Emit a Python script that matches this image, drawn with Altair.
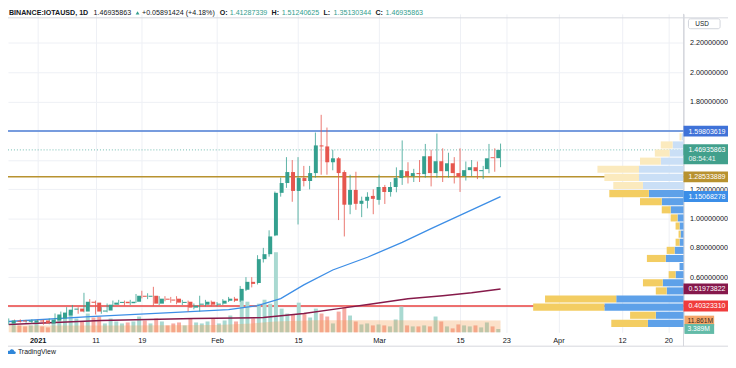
import altair as alt
import pandas as pd
import numpy as np

# ---------------- values ----------------
first_day = "2020-12-27"
opens = [0.284, 0.302, 0.304, 0.295, 0.290, 0.304, 0.304, 0.284, 0.304, 0.318,
         0.338, 0.378, 0.385, 0.365, 0.432, 0.426, 0.365, 0.372, 0.412, 0.424,
         0.432, 0.422, 0.432, 0.473, 0.466, 0.473, 0.419, 0.453, 0.447, 0.453,
         0.424, 0.432, 0.392, 0.412, 0.412, 0.432, 0.412, 0.419, 0.439, 0.453,
         0.439, 0.514, 0.568, 0.560, 0.723, 0.757, 0.885, 1.176, 1.243, 1.318,
         1.189, 1.277, 1.257, 1.311, 1.500, 1.493, 1.385, 1.412, 1.318, 1.095,
         1.196, 1.101, 1.122, 1.155, 1.128, 1.216, 1.182, 1.216, 1.277, 1.324,
         1.291, 1.311, 1.304, 1.426, 1.311, 1.392, 1.324, 1.378, 1.311, 1.291,
         1.331, 1.351, 1.324, 1.338, 1.419, 1.41287339]
closes = [0.304, 0.295, 0.297, 0.302, 0.304, 0.297, 0.284, 0.310, 0.345, 0.358,
          0.378, 0.385, 0.365, 0.432, 0.425, 0.365, 0.372, 0.412, 0.426, 0.431,
          0.422, 0.432, 0.473, 0.466, 0.473, 0.419, 0.453, 0.446, 0.440, 0.426,
          0.431, 0.392, 0.405, 0.419, 0.432, 0.412, 0.419, 0.439, 0.453, 0.439,
          0.520, 0.568, 0.554, 0.723, 0.757, 0.878, 1.176, 1.243, 1.318, 1.189,
          1.277, 1.257, 1.311, 1.500, 1.493, 1.385, 1.412, 1.311, 1.095, 1.196,
          1.101, 1.122, 1.149, 1.135, 1.216, 1.182, 1.216, 1.277, 1.331, 1.291,
          1.311, 1.304, 1.426, 1.311, 1.392, 1.324, 1.378, 1.311, 1.284, 1.331,
          1.351, 1.324, 1.331, 1.412, 1.41287339, 1.46935863]
highs = [0.318, 0.310, 0.312, 0.308, 0.312, 0.310, 0.310, 0.318, 0.352, 0.365,
         0.395, 0.410, 0.395, 0.493, 0.450, 0.440, 0.395, 0.420, 0.440, 0.445,
         0.440, 0.445, 0.485, 0.507, 0.490, 0.534, 0.470, 0.470, 0.465, 0.470,
         0.445, 0.440, 0.420, 0.473, 0.445, 0.440, 0.430, 0.450, 0.465, 0.465,
         0.540, 0.600, 0.600, 0.750, 0.800, 0.920, 1.185, 1.280, 1.420, 1.400,
         1.420, 1.360, 1.360, 1.588, 1.709, 1.622, 1.470, 1.420, 1.330, 1.300,
         1.320, 1.150, 1.180, 1.200, 1.300, 1.230, 1.250, 1.350, 1.534, 1.385,
         1.340, 1.400, 1.510, 1.470, 1.581, 1.480, 1.450, 1.420, 1.480, 1.390,
         1.400, 1.390, 1.360, 1.510, 1.480, 1.51240625]
lows = [0.275, 0.288, 0.290, 0.288, 0.284, 0.290, 0.275, 0.278, 0.298, 0.310,
        0.330, 0.360, 0.350, 0.360, 0.405, 0.345, 0.350, 0.360, 0.400, 0.410,
        0.405, 0.410, 0.425, 0.455, 0.450, 0.405, 0.410, 0.435, 0.425, 0.415,
        0.410, 0.365, 0.380, 0.365, 0.400, 0.400, 0.400, 0.410, 0.430, 0.430,
        0.430, 0.505, 0.530, 0.550, 0.700, 0.740, 0.880, 1.150, 1.210, 1.115,
        0.960, 1.220, 1.200, 1.280, 1.300, 1.300, 1.330, 0.990, 0.878, 1.030,
        1.060, 1.010, 1.070, 1.030, 1.095, 1.100, 1.150, 1.180, 1.230, 1.240,
        1.250, 1.250, 1.280, 1.220, 1.280, 1.250, 1.280, 1.240, 1.182, 1.260,
        1.290, 1.270, 1.270, 1.310, 1.320, 1.35130344]
volumes_m = [11, 7, 6, 7, 11, 6, 5, 12, 16, 17,
             21, 14, 11, 19, 15, 16, 9, 14, 11, 9,
             10, 11, 16, 12, 9, 14, 11, 7, 9, 10,
             7, 14, 10, 9, 11, 14, 9, 12, 17, 11,
             32, 31, 14, 29, 33, 29, 81, 24, 19, 18,
             30, 19, 15, 24, 19, 16, 9, 21, 26, 17,
             11, 8, 9, 7, 8, 7, 6, 13, 26, 7,
             6, 6, 7, 6, 16, 11, 6, 4, 8, 7,
             6, 7, 5, 10, 6, 3.389]

blue_ma_dates = ["2020-12-27", "2021-01-10", "2021-01-24", "2021-02-03", "2021-02-08",
                 "2021-02-12", "2021-02-16", "2021-02-21", "2021-02-27", "2021-03-05",
                 "2021-03-10", "2021-03-16", "2021-03-22"]
blue_ma_values = [0.297, 0.331, 0.358, 0.378, 0.405, 0.453, 0.547, 0.649, 0.736, 0.838,
                  0.932, 1.041, 1.15068278]
maroon_ma_dates = ["2020-12-27", "2021-01-12", "2021-01-28", "2021-02-09", "2021-02-16",
                   "2021-02-22", "2021-02-28", "2021-03-06", "2021-03-12", "2021-03-17",
                   "2021-03-22"]
maroon_ma_values = [0.277, 0.304, 0.318, 0.324, 0.351, 0.385, 0.419, 0.453, 0.473, 0.493,
                    0.51973822]
vol_ma_dates = ["2020-12-27", "2021-01-15", "2021-02-01", "2021-02-07", "2021-02-11",
                "2021-02-18", "2021-03-01", "2021-03-22"]
vol_ma_values = [7, 7, 7.5, 9, 11, 12.3, 12.3, 11.861]

level_prices = [1.59803619, 1.28533889, 0.40323310]
last_price = 1.46935863
countdown = "08:54:41"

profile_bottom = 0.2601
profile_step = 0.0554
profile_up = [36, 28, 80, 68, 17, 21, 8, 4, 18, 9, 4, 3, 4, 6, 13, 22, 35, 41, 45, 45, 23, 14, 11, 2]
profile_down = [37, 26, 72, 72, 11, 20, 7, 0, 19, 8, 4, 2, 4, 7, 9, 22, 40, 30, 35, 42, 21, 15, 12, 2]
profile_first_light_row = 17

tag_texts = ["1.59803619", "1.46935863", "1.28533889", "1.15068278", "0.51973822", "0.40323310"]
tag_prices = [1.59803619, 1.46935863, 1.28533889, 1.15068278, 0.51973822, 0.40323310]
vol_tag_texts = ["11.861M", "3.389M"]
vol_tag_values = [11.861, 3.389]

tick_dates = ["2021-01-01", "2021-01-11", "2021-01-19", "2021-02-01", "2021-02-15", "2021-03-01",
              "2021-03-15", "2021-03-23", "2021-04-01", "2021-04-12", "2021-04-20"]
tick_labels = ["2021", "11", "19", "Feb", "15", "Mar", "15", "23", "Apr", "12", "20"]
price_ticks = [0.4, 0.6, 0.8, 1.0, 1.2, 1.4, 1.6, 1.8, 2.0, 2.2]
hidden_price_labels = [0.4, 1.4, 1.6]   # covered by the price tags in the picture

header_title = "BINANCE:IOTAUSD, 1D"
header_last = "1.46935863"
header_change = "+0.05891424 (+4.18%)"
header_ohlc = [("O:", "1.41287339"), ("H:", "1.51240625"), ("L:", "1.35130344"), ("C:", "1.46935863")]

# ---------------- styles ----------------
FONT = "Liberation Sans"
DARK = "#131722"
UP, DOWN = "#34a08f", "#e6564e"
VUP, VDOWN = "#a9d9d1", "#f7aca4"
GRID = "#eef0f5"
W, H = 683, 322
origin = pd.Timestamp("2021-01-01")


def days(ds):
    return [(pd.Timestamp(d) - origin).days for d in ds]


day_scale = alt.Scale(domain=[-5.128, 111.62], nice=False, zero=False)
price_scale = alt.Scale(domain=[0.2230, 2.3986], nice=False, zero=False)
vol_scale = alt.Scale(domain=[0, 322], nice=False, zero=False)
prof_scale = alt.Scale(domain=[0, 683], nice=False, zero=False, reverse=True)

dates = pd.date_range(first_day, periods=len(opens), freq="D")
candles = pd.DataFrame({"day": [(d - origin).days for d in dates], "open": opens, "close": closes,
                        "high": highs, "low": lows, "volume": volumes_m})
candles["dir"] = np.where(candles["close"] >= candles["open"], "up", "down")

tick_days = days(tick_dates)
label_expr = "".join(f"datum.value == {d} ? '{l}' : " for d, l in zip(tick_days, tick_labels)) + "''"
price_label_expr = ("(" + " || ".join(f"datum.value == {v}" for v in hidden_price_labels)
                    + ") ? '' : format(datum.value, '.8f')")

x_axis = alt.Axis(values=tick_days, labelExpr=label_expr, grid=True, gridColor=GRID, domain=False,
                  ticks=False, labelPadding=4, labelFontSize=7.5, labelColor=DARK, labelFont=FONT,
                  labelFontWeight={"condition": {"test": "datum.value == 0", "value": "bold"}, "value": "normal"},
                  title=None, labelOverlap=False, labelFlush=False)
y_axis = alt.Axis(orient="right", values=price_ticks, labelExpr=price_label_expr, grid=True, gridColor=GRID,
                  domain=True, domainColor="#c9ccd3", ticks=False, labelPadding=6, labelFontSize=7.3,
                  labelColor=DARK, labelFont=FONT, title=None, labelOverlap=False)

dir_up_down = alt.Scale(domain=["up", "down"], range=[UP, DOWN])
dir_vol = alt.Scale(domain=["up", "down"], range=[VUP, VDOWN])

base = alt.Chart(candles)
wicks = base.mark_rule(strokeWidth=1, opacity=0.8).encode(
    x=alt.X("day:Q", scale=day_scale, axis=x_axis),
    y=alt.Y("low:Q", scale=price_scale, axis=y_axis),
    y2="high:Q",
    color=alt.Color("dir:N", scale=dir_up_down, legend=None))
bodies = base.mark_bar(size=4).encode(
    x=alt.X("day:Q", scale=day_scale, axis=None),
    y=alt.Y("open:Q", scale=price_scale, axis=None),
    y2="close:Q",
    color=alt.Color("dir:N", scale=dir_up_down, legend=None))
vol_bars = base.mark_bar(size=4).encode(
    x=alt.X("day:Q", scale=day_scale, axis=None),
    y=alt.Y("volume:Q", scale=vol_scale, axis=None),
    color=alt.Color("dir:N", scale=dir_vol, legend=None))

vol_ma = alt.Chart(pd.DataFrame({"day": days(vol_ma_dates), "v": vol_ma_values})).mark_area(
    color="#f39a4d", opacity=0.3).encode(
    x=alt.X("day:Q", scale=day_scale, axis=None),
    y=alt.Y("v:Q", scale=vol_scale, axis=None))

blue_ma = alt.Chart(pd.DataFrame({"day": days(blue_ma_dates), "p": blue_ma_values})).mark_line(
    color="#3d8ee6", strokeWidth=1.3).encode(
    x=alt.X("day:Q", scale=day_scale, axis=None),
    y=alt.Y("p:Q", scale=price_scale, axis=None))
maroon_ma = alt.Chart(pd.DataFrame({"day": days(maroon_ma_dates), "p": maroon_ma_values})).mark_line(
    color="#861a4a", strokeWidth=1.5).encode(
    x=alt.X("day:Q", scale=day_scale, axis=None),
    y=alt.Y("p:Q", scale=price_scale, axis=None))

levels = alt.Chart(pd.DataFrame({"p": level_prices, "k": ["a", "b", "c"]})).mark_rule(strokeWidth=1.5).encode(
    y=alt.Y("p:Q", scale=price_scale, axis=None),
    x=alt.value(0), x2=alt.value(W),
    color=alt.Color("k:N", scale=alt.Scale(domain=["a", "b", "c"], range=["#4c7ed4", "#b8922f", "#e8403f"]),
                    legend=None))
last_line = alt.Chart(pd.DataFrame({"p": [last_price]})).mark_rule(
    color=UP, strokeDash=[1, 2], strokeWidth=1, opacity=0.7).encode(
    y=alt.Y("p:Q", scale=price_scale, axis=None), x=alt.value(0), x2=alt.value(W))

# visible-range volume profile
rows = []
for j, (u, d) in enumerate(zip(profile_up, profile_down)):
    lo = profile_bottom + j * profile_step
    hi = lo + profile_step
    shade = "light" if j >= profile_first_light_row else "dark"
    rows.append({"lo": lo, "hi": hi, "x0": 0, "x1": u, "kind": "up_" + shade})
    rows.append({"lo": lo, "hi": hi, "x0": u, "x1": u + d, "kind": "down_" + shade})
profile = alt.Chart(pd.DataFrame(rows)).mark_rect(y2Offset=1).encode(
    x=alt.X("x0:Q", scale=prof_scale, axis=None), x2="x1:Q",
    y=alt.Y("lo:Q", scale=price_scale, axis=None), y2="hi:Q",
    color=alt.Color("kind:N", scale=alt.Scale(
        domain=["up_dark", "down_dark", "up_light", "down_light"],
        range=["#5ea1e9", "#f3cd62", "#cadff6", "#fbeabe"]), legend=None))

# price tags on the scale
tag_colors = ["#3f72d8", "#41a08c", "#b8922f", "#3b8ee8", "#86184c", "#f03c3c"]
tags_df = pd.DataFrame({"p": tag_prices, "t": tag_texts})
tag_color_scale = alt.Scale(domain=tag_texts, range=tag_colors)
tag_boxes = alt.Chart(tags_df).mark_rect(yOffset=-5.5, y2Offset=5.5).encode(
    x=alt.value(W), x2=alt.value(W + 45),
    y=alt.Y("p:Q", scale=price_scale, axis=None), y2="p:Q",
    color=alt.Color("t:N", scale=tag_color_scale, legend=None))
last_box = alt.Chart(pd.DataFrame({"p": [last_price]})).mark_rect(
    yOffset=-5.5, y2Offset=14.5, color="#41a08c").encode(
    x=alt.value(W), x2=alt.value(W + 45), y=alt.Y("p:Q", scale=price_scale, axis=None), y2="p:Q")
tag_text = alt.Chart(tags_df).mark_text(align="left", baseline="middle", fontSize=7.1, font=FONT,
                                        color="white", dy=0.5).encode(
    x=alt.value(W + 5), y=alt.Y("p:Q", scale=price_scale, axis=None), text="t:N")
count_text = alt.Chart(pd.DataFrame({"p": [last_price], "t": [countdown]})).mark_text(
    align="left", baseline="middle", fontSize=7.1, font=FONT, color="#e8f5f2", dy=9.5).encode(
    x=alt.value(W + 5), y=alt.Y("p:Q", scale=price_scale, axis=None), text="t:N")

vol_df = pd.DataFrame({"v": vol_tag_values, "t": vol_tag_texts})
vol_boxes = alt.Chart(vol_df).mark_rect(yOffset=-5, y2Offset=5).encode(
    x=alt.value(W + 1), x2=alt.value(W + 31),
    y=alt.Y("v:Q", scale=vol_scale, axis=None), y2="v:Q",
    color=alt.Color("t:N", scale=alt.Scale(domain=vol_tag_texts, range=["#f4a66a", "#63bba8"]), legend=None))
vol_text = alt.Chart(vol_df).mark_text(align="left", baseline="middle", fontSize=6.8, font=FONT).encode(
    x=alt.value(W + 4), y=alt.Y("v:Q", scale=vol_scale, axis=None), text="t:N",
    color=alt.Color("t:N", scale=alt.Scale(domain=vol_tag_texts, range=["#3a2a1a", "white"]), legend=None))


def txt(t, x, y, **kw):
    return alt.Chart(pd.DataFrame({"t": [t]})).mark_text(font=FONT, baseline="middle", align="left", **kw).encode(
        x=alt.value(x), y=alt.value(y), text="t:N")


def hrule(x, x2, y, color="#d6d8de"):
    return alt.Chart(pd.DataFrame({"a": [0]})).mark_rule(color=color, strokeWidth=1).encode(
        x=alt.value(x), x2=alt.value(x2), y=alt.value(y))


def vrule(x, y, y2, color="#d6d8de"):
    return alt.Chart(pd.DataFrame({"a": [0]})).mark_rule(color=color, strokeWidth=1).encode(
        x=alt.value(x), y=alt.value(y), y2=alt.value(y2))


HF = 7.2
header = [
    txt(header_title, 1, -1, fontSize=HF, fontWeight="bold", color=DARK),
    txt(header_last, 86.5, -1, fontSize=HF, color=DARK),
    alt.Chart(pd.DataFrame({"a": [0]})).mark_point(shape="triangle-up", filled=True, size=15, color=UP,
                                                   opacity=1).encode(x=alt.value(131), y=alt.value(-1)),
    txt(header_change, 135.5, -1, fontSize=HF, color=DARK),
]
hx = 214
for k, v in header_ohlc:
    header.append(txt(k, hx, -1, fontSize=HF, fontWeight="bold", color=DARK))
    header.append(txt(v, hx + 10.2, -1, fontSize=HF, color=UP))
    hx += 52.5

usd_box = alt.Chart(pd.DataFrame({"a": [0]})).mark_rect(fill="white", stroke="#d1d4dc", strokeWidth=1,
                                                        cornerRadius=2).encode(
    x=alt.value(W + 5), x2=alt.value(W + 37), y=alt.value(5), y2=alt.value(15))
logo = alt.Chart(pd.DataFrame({"a": [0]})).mark_point(
    shape="M-1,0.45 C-1.25,0 -0.8,-0.45 -0.35,-0.3 C-0.15,-0.85 0.7,-0.85 0.8,-0.2 C1.25,-0.2 1.3,0.45 0.9,0.45 Z",
    filled=True, size=70, color="#2f86d9", opacity=1).encode(x=alt.value(3), y=alt.value(H + 20))

layers = [
    hrule(0, W + 45, 4), vrule(W, 0, H + 14), hrule(0, W + 45, H + 14),
    levels, last_line,
    vol_bars, vol_ma,
    profile,
    maroon_ma, blue_ma,
    wicks, bodies,
    tag_boxes, last_box, tag_text, count_text,
    vol_boxes, vol_text,
    usd_box, txt("USD", W + 12, 10, fontSize=6.5, color=DARK),
    logo, txt("TradingView", 10, H + 20, fontSize=7, color=DARK),
] + header

chart = alt.layer(*layers).resolve_scale(
    x="independent", y="independent", color="independent"
).properties(
    width=W, height=H,
    padding={"left": 0, "top": 4, "right": 45, "bottom": 24},
    autosize=alt.AutoSizeParams(type="none"),
    background="white",
).configure_view(stroke=None)

chart.save("out.html", embed_options={"renderer": "svg", "actions": False})
